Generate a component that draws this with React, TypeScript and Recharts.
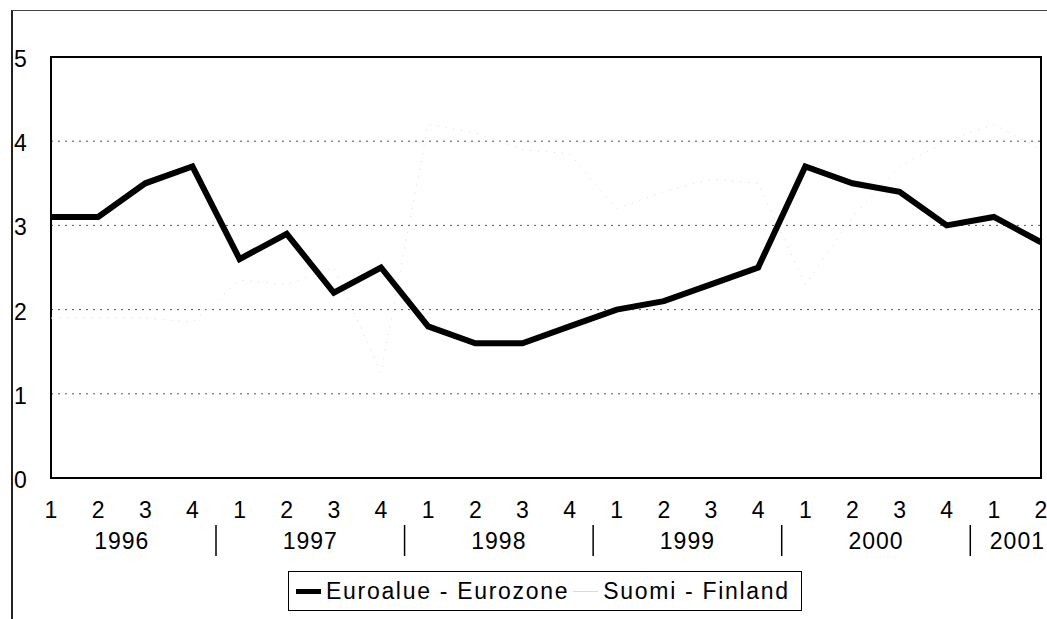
import { LineChart, Line, XAxis, YAxis, CartesianGrid, ReferenceArea, Legend } from "recharts";

const quarterLabels = ["1", "2", "3", "4", "1", "2", "3", "4", "1", "2", "3", "4", "1", "2", "3", "4", "1", "2", "3", "4", "1", "2"];
const years = ["1996", "1997", "1998", "1999", "2000", "2001"];
const quartersInYear = [4, 4, 4, 4, 4, 2];
const yTicks = [0, 1, 2, 3, 4, 5];

// Euroalue - Eurozone
const euroalue = [3.1, 3.1, 3.5, 3.7, 2.6, 2.9, 2.2, 2.5, 1.8, 1.6, 1.6, 1.8, 2.0, 2.1, 2.3, 2.5, 3.7, 3.5, 3.4, 3.0, 3.1, 2.8];
// Suomi - Finland (very faint in the scan)
const suomi = [1.9, 1.9, 1.9, 1.85, 2.35, 2.3, 2.5, 1.25, 4.2, 4.1, 3.9, 3.85, 3.2, 3.4, 3.55, 3.5, 2.3, 3.1, 3.7, 4.0, 4.2, 3.9];

const data = quarterLabels.map((q, i) => ({ i, q, euro: euroalue[i], fin: suomi[i] }));

// year labels sit in the middle of their quarters, separators between years
const yearTicks: { pos: number; label?: string }[] = [];
let start = 0;
years.forEach((y, k) => {
  const n = quartersInYear[k];
  yearTicks.push({ pos: start + (n - 1) / 2, label: y });
  start += n;
  if (k < years.length - 1) yearTicks.push({ pos: start - 0.5 });
});
const yearLabelAt = new Map(yearTicks.filter((t) => t.label).map((t) => [t.pos, t.label]));

const FONT = "'Liberation Sans', Arial, sans-serif";
const last = quarterLabels.length - 1;

const QuarterTick = ({ x, y, payload }: any) => (
  <text x={x} y={y} dy={32} textAnchor="middle" fontSize={23} fontFamily={FONT} fill="#000">
    {quarterLabels[payload.value]}
  </text>
);

const YearTick = ({ x, y, payload }: any) => {
  const label = yearLabelAt.get(payload.value);
  if (label)
    return (
      <text x={x} y={y} dy={23} textAnchor="middle" fontSize={23} letterSpacing={1} fontFamily={FONT} fill="#000">
        {label}
      </text>
    );
  return <line x1={x} x2={x} y1={y - 1} y2={y + 30} stroke="#000" strokeWidth={1.5} />;
};

const ValueTick = ({ y, payload }: any) => (
  <text x={14} y={y} dy={10} textAnchor="start" fontSize={23} fontFamily={FONT} fill="#000">
    {payload.value}
  </text>
);

const LegendBox = ({ payload }: any) => (
  <div
    style={{
      border: "1.5px solid #000",
      height: 40,
      boxSizing: "border-box",
      display: "flex",
      alignItems: "center",
      paddingLeft: 7,
      fontFamily: FONT,
      fontSize: 23,
      letterSpacing: 1.7,
      color: "#000",
    }}
  >
    {(payload || []).map((p: any, k: number) => (
      <div key={k} style={{ display: "flex", alignItems: "center", marginLeft: k ? 4 : 0 }}>
        <div
          style={{
            width: 25,
            height: p.dataKey === "euro" ? 5 : 1,
            background: p.color,
            marginRight: 5,
          }}
        />
        <span style={{ lineHeight: 1 }}>{p.value}</span>
      </div>
    ))}
  </div>
);

export default function App() {
  return (
    <div style={{ position: "absolute", left: 0, top: 0, width: 1047, height: 619, background: "#fff" }}>
      <div
        style={{
          position: "absolute",
          left: 11,
          top: 10,
          width: 1036,
          height: 609,
          borderLeft: "2px solid #222",
          borderTop: "1.5px solid #444",
          boxSizing: "border-box",
        }}
      />
      <LineChart
        width={1047}
        height={619}
        data={data}
        margin={{ top: 57, right: 6, bottom: 41, left: 0 }}
        style={{ position: "absolute", left: 0, top: 0 }}
      >
        <CartesianGrid horizontal vertical={false} stroke="#555" strokeDasharray="2 5" />
        <XAxis
          xAxisId="q"
          type="number"
          dataKey="i"
          domain={[0, last]}
          ticks={data.map((d) => d.i)}
          interval={0}
          axisLine={false}
          tickLine={false}
          height={40}
          tick={<QuarterTick />}
        />
        <XAxis
          xAxisId="year"
          type="number"
          domain={[0, last]}
          ticks={yearTicks.map((t) => t.pos)}
          interval={0}
          axisLine={false}
          tickLine={false}
          height={60}
          tick={<YearTick />}
        />
        <YAxis
          domain={[0, 5]}
          ticks={yTicks}
          interval={0}
          axisLine={false}
          tickLine={false}
          width={51}
          tick={<ValueTick />}
        />
        <Line
          xAxisId="q"
          dataKey="fin"
          name="Suomi - Finland"
          stroke="#dadada"
          strokeWidth={1}
          strokeDasharray="1 7"
          dot={false}
          isAnimationActive={false}
        />
        <Line
          xAxisId="q"
          dataKey="euro"
          name="Euroalue - Eurozone"
          stroke="#000"
          strokeWidth={6}
          dot={false}
          isAnimationActive={false}
        />
        <ReferenceArea
          xAxisId="q"
          x1={0}
          x2={last}
          y1={0}
          y2={5}
          fill="none"
          stroke="#000"
          strokeWidth={2}
          ifOverflow="visible"
        />
        <Legend
          layout="vertical"
          align="center"
          verticalAlign="middle"
          content={<LegendBox />}
          wrapperStyle={{ left: 288, top: 571, width: 514 }}
        />
      </LineChart>
    </div>
  );
}
